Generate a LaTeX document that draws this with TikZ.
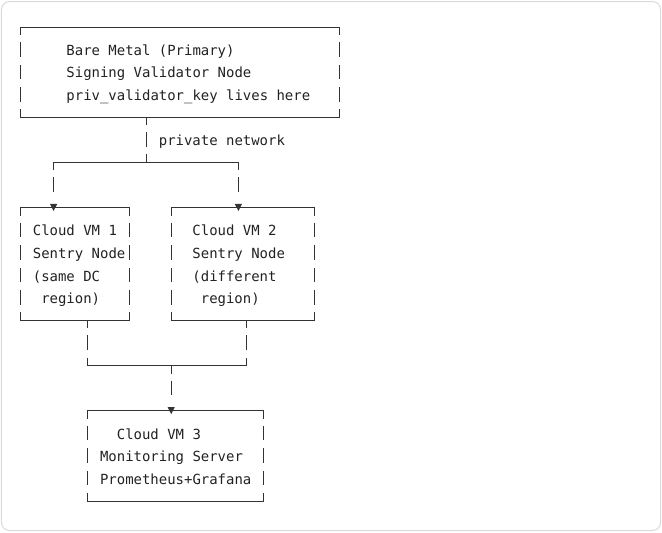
\documentclass[tikz,border=0pt]{standalone}
\usepackage{fontspec}
\setmonofont{DejaVu Sans Mono}
\definecolor{ink}{HTML}{333333}
\definecolor{txtcol}{HTML}{222222}
\definecolor{framecol}{HTML}{DADADA}
\tikzset{
  ln/.style={draw=ink,line width=0.7pt},
  txt/.style={font=\ttfamily\fontsize{10.47}{12}\selectfont,text=txtcol,inner sep=0pt,anchor=base west}
}
% ascii-art helpers (column, row)
\newcommand\asbar[2]{\draw[ln] ({cx(#1)},{ry(#2)-7.5}) -- ({cx(#1)},{ry(#2)+7});}
\newcommand\stubdown[2]{\draw[ln] ({cx(#1)},{ry(#2)}) -- ({cx(#1)},{ry(#2)+8});}
\newcommand\stubup[2]{\draw[ln] ({cx(#1)},{ry(#2)}) -- ({cx(#1)},{ry(#2)-8});}
\newcommand\atri[2]{\fill[ink] ({cx(#1)-3.6},{ry(#2)-3.6}) -- ({cx(#1)+3.6},{ry(#2)-3.6}) -- ({cx(#1)},{ry(#2)+3.4}) -- cycle;}
\newcommand\abox[4]{%
  \draw[ln] ({cx(#1)},{ry(#3)+8}) -- ({cx(#1)},{ry(#3)}) -- ({cx(#2)},{ry(#3)}) -- ({cx(#2)},{ry(#3)+8});
  \draw[ln] ({cx(#1)},{ry(#4)-8}) -- ({cx(#1)},{ry(#4)}) -- ({cx(#2)},{ry(#4)}) -- ({cx(#2)},{ry(#4)-8});
  \pgfmathtruncatemacro\ra{#3+1}\pgfmathtruncatemacro\rb{#4-1}%
  \foreach \r in {\ra,...,\rb}{\asbar{#1}{\r}\asbar{#2}{\r}}%
}
\newcommand\tx[4]{\node[txt] (#1) at ({cx(#2)-4.2},{ry(#3)+5.8}) {#4};}
\begin{document}
\begin{tikzpicture}[x=0.75pt,y=-0.75pt,
  declare function={cx(\c)=20+8.4*\c; ry(\r)=27+22.57*\r;}]
\useasboundingbox (0,0) rectangle (662,533);
\draw[framecol,line width=0.75pt,rounded corners=6pt] (1.5,1.5) rectangle (660.5,530.5);

% boxes
\abox{0}{38}{0}{4}
\abox{0}{13}{8}{13}
\abox{18}{35}{8}{13}
\abox{8}{29}{17}{21}

% texts
\tx{bm1}{6}{1}{Bare Metal (Primary)}
\tx{bm2}{6}{2}{Signing Validator Node}
\tx{bm3}{6}{3}{priv\_validator\_key lives here}
\tx{pn}{17}{5}{private network}
\tx{va1}{2}{9}{Cloud VM 1}
\tx{va2}{2}{10}{Sentry Node}
\tx{va3}{2}{11}{(same DC}
\tx{va4}{3}{12}{region)}
\tx{vb1}{21}{9}{Cloud VM 2}
\tx{vb2}{21}{10}{Sentry Node}
\tx{vb3}{21}{11}{(different}
\tx{vb4}{22}{12}{region)}
\tx{vc1}{12}{18}{Cloud VM 3}
\tx{vc2}{10}{19}{Monitoring Server}
\tx{vc3}{10}{20}{Prometheus+Grafana}

% connector: bare metal -> split
\stubdown{15}{4}
\asbar{15}{5}
\stubup{15}{6}
\draw[ln] ({cx(4)},{ry(6)+8}) -- ({cx(4)},{ry(6)}) -- ({cx(26)},{ry(6)}) -- ({cx(26)},{ry(6)+8});
\asbar{4}{7}
\asbar{26}{7}
\atri{4}{8}
\atri{26}{8}

% connector: sentries -> monitoring
\stubdown{8}{13}
\asbar{8}{14}
\stubdown{27}{13}
\asbar{27}{14}
\draw[ln] ({cx(8)},{ry(15)-8}) -- ({cx(8)},{ry(15)}) -- ({cx(27)},{ry(15)}) -- ({cx(27)},{ry(15)-8});
\stubdown{18}{15}
\asbar{18}{16}
\atri{18}{17}
\end{tikzpicture}
\end{document}
